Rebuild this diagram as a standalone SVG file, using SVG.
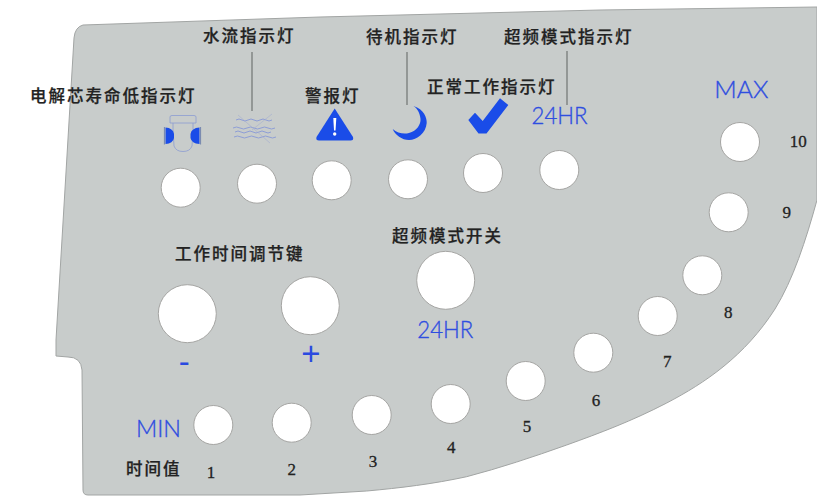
<svg xmlns="http://www.w3.org/2000/svg" width="817" height="496" viewBox="0 0 817 496">
<style>
.hole{fill:#fff;stroke:#a5a5a3;stroke-width:1}
.cn{font-family:"Noto Sans CJK SC","Liberation Sans",sans-serif;font-size:16.500px;font-weight:500;letter-spacing:2px;fill:#222;stroke:#222;stroke-width:.25}
.bl{font-family:"Lato","Liberation Sans",sans-serif;font-size:24px;font-weight:300;fill:#2f4ee0;stroke:#2f4ee0;stroke-width:.35}
.pm{font-family:"Liberation Sans",sans-serif;font-size:33px;fill:#2a4ae0;text-anchor:middle}
.num{font-family:"Liberation Serif",serif;font-size:17px;fill:#222;stroke:#222;stroke-width:.3;text-anchor:middle}
.lead{stroke:#707472;stroke-width:1.2;fill:none}
.ico{fill:#1a4ce8}
.wave{fill:none;stroke:#7f92d8;stroke-width:.8}
</style>
<rect width="817" height="496" fill="#fff"/>
<path id="panel" d="M83,25 L320,17 L600,10 L817,7 L817,200 C806,240 793,280 775,309 C745,356 705,383 666.7,403 C632,421 600,433 566.7,445 C533,457 500,468 466.7,476.7 C433,484 400,488 366.7,491 L300,495 L88,495 Q83,495 83,490 L82,370 Q81,357 68,357 L56,356 L56,340 L74,38 Q75,27 83,25 Z" fill="#c8cccb" stroke="#a2a5a4" stroke-width="1"/>
<g id="connectors">
<line class="lead" x1="252" y1="52" x2="252" y2="111"/>
<line class="lead" x1="407" y1="52" x2="407" y2="105"/>
<line class="lead" x1="567" y1="51" x2="567" y2="105"/>
</g>
<g id="icon-cartridge">
<path d="M170,123 V117 Q170,115.5 172,115.5 H194 Q196,115.5 196,117 V123 Z M173,123 V130 L174,146 Q176,151.5 183,151.5 Q190,151.5 192,146 L193,130 V123" fill="none" stroke="#8c9cd2" stroke-width=".8"/>
<path class="ico" d="M165.5,127.5 Q173,128 174,134 V138 Q173,143.5 165.5,144 Z M199.5,127.5 Q191.500,128 190.500,134 V138 Q191.500,143.500 199.5,144 Z"/>
<path d="M164.5,127 V144.5 M200.5,127 V144.5" stroke="#7b8bb0" stroke-width="1.2" fill="none"/>
</g>
<g id="icon-water">
<path class="wave" d="M236,120 q3,-2 6,0 t6,0 t6,0 t6,0 t6,0 t6,0"/>
<path class="wave" d="M233,128 q3.500,-2 7,0 t7,0 t7,0 t7,0 t7,0 t7,0"/>
<path class="wave" d="M235,132 q3,-2 6,0 t6,0 t6,0 t6,0 t6,0 t6,0"/>
<path class="wave" d="M234,137 q3.500,-2 7,0 t7,0 t7,0 t7,0 t7,0 t7,0"/>
<path d="M238,115 L270,143 M272,114 L252,130" fill="none" stroke="#a4afd2" stroke-width=".6"/>
</g>
<g id="icon-alarm">
<path class="ico" d="M334.7,108.500 L353,137 Q354,140.500 350.500,140.500 H319 Q315.500,140.500 316.500,137 Z"/>
<path d="M333.300,118 H336.300 L335.500,130.500 H334 Z" fill="#fff"/>
<circle cx="334.700" cy="134" r="1.700" fill="#fff"/>
</g>
<g id="icon-moon">
<path class="ico" d="M413.500,106 C424,109 427,118 426.700,123 C426,133 417,140 409,140 C402,140 395,135 392.700,129 C397,133 404,134.500 409,133 C417,131 421,124 420.500,119 C420,113 417,108 413.500,106 Z"/>
</g>
<g id="icon-check">
<path class="ico" d="M468.300,120 L475,112.700 L482.700,121 L500,98.300 L508.300,105 L486.500,133.500 H478.500 Z"/>
</g>
<g id="label-core"><text class="cn" x="30" y="101.500">电解芯寿命低指示灯</text><circle class="hole" cx="180.700" cy="187.700" r="19.500"/></g>
<g id="label-water"><text class="cn" x="203" y="42">水流指示灯</text><circle class="hole" cx="257" cy="183.700" r="19.500"/></g>
<g id="label-alarm"><text class="cn" x="305" y="101.500">警报灯</text><circle class="hole" cx="331.700" cy="180.300" r="19.500"/></g>
<g id="label-standby"><text class="cn" x="366" y="42.500">待机指示灯</text><circle class="hole" cx="408" cy="179.300" r="19.500"/></g>
<g id="label-normal"><text class="cn" x="427" y="92.500">正常工作指示灯</text><circle class="hole" cx="483" cy="173" r="19.500"/></g>
<g id="label-turbo"><text class="cn" x="504" y="42.500">超频模式指示灯</text><text class="bl" x="531.500" y="124" textLength="56" lengthAdjust="spacingAndGlyphs">24HR</text><circle class="hole" cx="559.300" cy="170" r="19.500"/></g>
<g id="time-keys"><text class="cn" x="175" y="259.500">工作时间调节键</text>
<circle class="hole" cx="187.300" cy="313.700" r="29"/><text class="pm" x="184.300" y="373">-</text>
<circle class="hole" cx="310.300" cy="305.700" r="29"/><text class="pm" x="311" y="365">+</text></g>
<g id="turbo-switch"><text class="cn" x="392" y="242">超频模式开关</text><circle class="hole" cx="445.700" cy="280.300" r="29"/>
<text class="bl" x="417.300" y="338" textLength="56" lengthAdjust="spacingAndGlyphs">24HR</text></g>
<g id="time-scale">
<text class="bl" x="136" y="436.500" textLength="45" lengthAdjust="spacingAndGlyphs">MIN</text>
<text class="bl" x="714.300" y="97.500" textLength="54" lengthAdjust="spacingAndGlyphs">MAX</text>
<text class="cn" x="126" y="474.500">时间值</text>
<g id="step-1"><circle class="hole" cx="213.300" cy="425" r="19.500"/><text class="num" x="211" y="477.500">1</text></g>
<g id="step-2"><circle class="hole" cx="291.700" cy="422.700" r="19.500"/><text class="num" x="291.700" y="475">2</text></g>
<g id="step-3"><circle class="hole" cx="371.700" cy="415" r="19.500"/><text class="num" x="373" y="467">3</text></g>
<g id="step-4"><circle class="hole" cx="450.700" cy="404" r="19.500"/><text class="num" x="451.300" y="453">4</text></g>
<g id="step-5"><circle class="hole" cx="525.700" cy="381" r="19.500"/><text class="num" x="527" y="432">5</text></g>
<g id="step-6"><circle class="hole" cx="593.300" cy="352.700" r="19.500"/><text class="num" x="596" y="406">6</text></g>
<g id="step-7"><circle class="hole" cx="657.700" cy="316" r="19.500"/><text class="num" x="667.300" y="367">7</text></g>
<g id="step-8"><circle class="hole" cx="702.300" cy="275.300" r="19.500"/><text class="num" x="728.300" y="317.500">8</text></g>
<g id="step-9"><circle class="hole" cx="728.700" cy="212.300" r="19.500"/><text class="num" x="786.700" y="218">9</text></g>
<g id="step-10"><circle class="hole" cx="740" cy="142" r="19.500"/><text class="num" x="798.300" y="147">10</text></g>
</g>
</svg>
